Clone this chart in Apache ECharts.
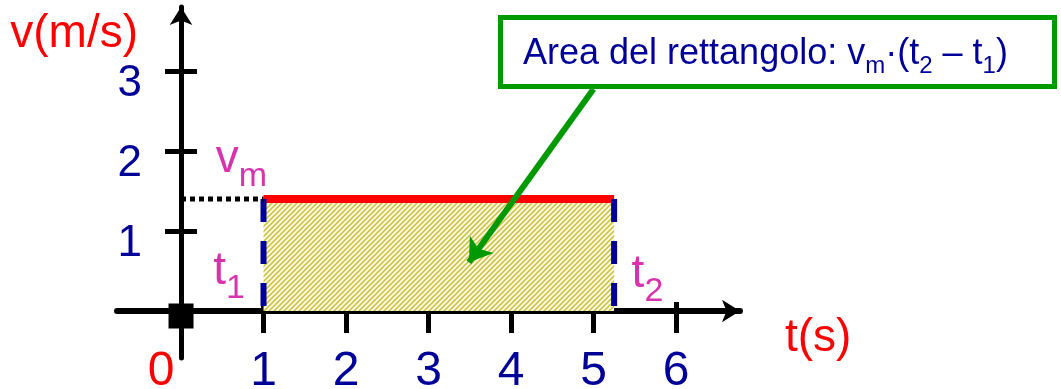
<!DOCTYPE html>
<html>
<head>
<meta charset="utf-8">
<script src="https://cdn.jsdelivr.net/npm/echarts@6/dist/echarts.min.js"></script>
<style>
  html, body { margin: 0; padding: 0; background: #ffffff; }
  #chart { width: 1061px; height: 389px; }
</style>
</head>
<body>
<div id="chart"></div>
<script>
// Tick values on the time axis (s) and on the velocity axis (m/s)
const timeTicks = [1, 2, 3, 4, 5, 6];
const timeLabels = [0, 1, 2, 3, 4, 5, 6];
const velocityTicks = [1, 2, 3];

// Constant mean velocity vm held from t1 to t2
const t1 = 1;
const t2 = 5.25;
const vm = 1.4;

const topEdge = [[t1, vm], [t2, vm]];
const leftEdge = [[t1, vm], [t1, 0]];
const rightEdge = [[t2, vm], [t2, 0]];
const vmGuide = [[0, vm], [t1, vm]];
const origin = [[0, 0]];

const FONT = '"Liberation Sans", Arial, sans-serif';
const NAVY = '#000099';
const MAGENTA = '#cc0099';
const RED = '#ff0000';
const GREEN = '#009900';

// Diagonal yellow hatching for the area under the velocity line
function hatchPattern() {
  const s = 5;
  const c = document.createElement('canvas');
  c.width = s; c.height = s;
  const g = c.getContext('2d');
  g.fillStyle = '#fbf8e0';
  g.fillRect(0, 0, s, s);
  g.strokeStyle = '#cdbf3e';
  g.lineWidth = 1.5;
  g.beginPath();
  g.moveTo(-1, s + 1); g.lineTo(s + 1, -1);
  g.moveTo(-s / 2 - 1, s / 2 + 1); g.lineTo(s / 2 + 1, -s / 2 - 1);
  g.moveTo(s / 2 - 1, s * 1.5 + 1); g.lineTo(s * 1.5 + 1, s / 2 - 1);
  g.stroke();
  return c;
}

// Axes run a little past the origin on both sides
const xMin = -0.776, xMax = 6.776;
const yMin = -0.5875, yMax = 3.8;

const subRich = {
  a: { fontSize: 46, fontFamily: FONT, color: MAGENTA, verticalAlign: 'bottom', padding: [0, 0, 12, 0] },
  b: { fontSize: 34, fontFamily: FONT, color: MAGENTA, verticalAlign: 'bottom' }
};

const tickLine = { color: '#000000', width: 5 };

const chart = echarts.init(document.getElementById('chart'), null, { renderer: 'canvas' });

chart.setOption({
  animation: false,
  backgroundColor: '#ffffff',
  grid: { left: 117, right: 321, top: 7, bottom: 31, containLabel: false, outerBoundsMode: 'none' },
  xAxis: [
    {
      type: 'value', min: xMin, max: xMax, position: 'bottom',
      axisLine: {
        show: true, onZero: true, onZeroAxisIndex: 0,
        symbol: ['none', 'arrow'], symbolSize: [17, 18],
        lineStyle: { color: '#000000', width: 6 }
      },
      axisTick: { show: true, inside: false, length: 22, customValues: timeTicks, lineStyle: tickLine },
      axisLabel: {
        show: true, customValues: timeLabels, margin: -10,
        fontSize: 48, fontFamily: FONT, color: NAVY,
        formatter: v => (v === 0 ? '{z|0}' : String(v)),
        rich: { z: { color: RED, fontSize: 48, fontFamily: FONT, padding: [0, 40, 0, 0] } }
      },
      splitLine: { show: false },
      name: 't(s)', nameLocation: 'end', nameGap: 45,
      nameTextStyle: { color: RED, fontSize: 46, fontFamily: FONT, verticalAlign: 'top', lineHeight: 54 }
    },
    {
      type: 'value', min: xMin, max: xMax, position: 'bottom',
      axisLine: { show: false, onZero: true, onZeroAxisIndex: 0 },
      axisTick: { show: true, inside: true, length: 9, customValues: timeTicks, lineStyle: tickLine },
      axisLabel: { show: false },
      splitLine: { show: false }
    }
  ],
  yAxis: [
    {
      type: 'value', min: yMin, max: yMax, position: 'left',
      axisLine: {
        show: true, onZero: true, onZeroAxisIndex: 0,
        symbol: ['none', 'arrow'], symbolSize: [17, 18],
        lineStyle: { color: '#000000', width: 5 }
      },
      axisTick: { show: true, inside: false, length: 16, customValues: velocityTicks, lineStyle: tickLine },
      axisLabel: {
        show: true, customValues: velocityTicks, margin: -25,
        fontSize: 44, fontFamily: FONT, color: NAVY,
        verticalAlign: 'top', lineHeight: 26
      },
      splitLine: { show: false },
      name: 'v(m/s)', nameLocation: 'end', nameGap: -27,
      nameTextStyle: {
        color: RED, fontSize: 46, fontFamily: FONT,
        align: 'right', verticalAlign: 'middle', padding: [0, 43, 0, 0]
      }
    },
    {
      type: 'value', min: yMin, max: yMax, position: 'left',
      axisLine: { show: false, onZero: true, onZeroAxisIndex: 0 },
      axisTick: { show: true, inside: true, length: 16, customValues: velocityTicks, lineStyle: tickLine },
      axisLabel: { show: false },
      splitLine: { show: false }
    }
  ],
  series: [
    {
      // hatched rectangle under vm, topped by the red velocity line
      type: 'line', data: topEdge, symbol: 'none', z: 2, silent: true,
      lineStyle: { color: RED, width: 8 },
      areaStyle: { color: { image: hatchPattern(), repeat: 'repeat' }, opacity: 1 }
    },
    {
      type: 'line', data: leftEdge, symbol: 'none', z: 3, silent: true,
      lineStyle: { color: NAVY, width: 6, type: [23, 19] }
    },
    {
      type: 'line', data: rightEdge, symbol: 'none', z: 3, silent: true,
      lineStyle: { color: NAVY, width: 6, type: [23, 19] }
    },
    {
      type: 'line', data: vmGuide, symbol: 'none', z: 3, silent: true,
      lineStyle: { color: '#000000', width: 5, type: [5, 4] }
    },
    {
      type: 'scatter', data: origin, symbol: 'rect', symbolSize: 25, symbolOffset: [0, 5],
      itemStyle: { color: '#000000', opacity: 1 }, z: 5, silent: true
    },
    {
      // vm, t1 and t2 markers
      type: 'scatter', symbolSize: 1, itemStyle: { color: 'transparent' }, z: 6, silent: true,
      label: { show: true, rich: subRich },
      data: [
        { value: [t1, vm], label: { position: [4, -4.5], align: 'right', verticalAlign: 'bottom', formatter: '{a|v}{b|m}' } },
        { value: [t1, 0], label: { position: [-18, -4.5], align: 'right', verticalAlign: 'bottom', formatter: '{a|t}{b|1}' } },
        { value: [t2, 0], label: { position: [18, -1.5], align: 'left', verticalAlign: 'bottom', formatter: '{a|t}{b|2}' } }
      ]
    },
    {
      // green pointer from the caption into the area
      type: 'line', data: [], z: 8, silent: true,
      markLine: {
        silent: true, animation: false,
        symbol: ['none', 'arrow'], symbolSize: 22,
        lineStyle: { color: GREEN, width: 6, type: 'solid' },
        label: { show: false },
        data: [[{ coord: [5.0, 2.775] }, { coord: [3.49, 0.61] }]]
      }
    }
  ],
  graphic: [
    {
      type: 'rect', z: 10, silent: true,
      shape: { x: 500.5, y: 17.5, width: 554, height: 69 },
      style: { fill: '#ffffff', stroke: GREEN, lineWidth: 5 }
    },
    {
      type: 'text', z: 11, silent: true,
      style: {
        x: 523, y: 57,
        text: '{a|Area del rettangolo: v}{s|m}{a|·(t}{s|2}{a| – t}{s|1}{a|)}',
        verticalAlign: 'middle', align: 'left',
        rich: {
          a: { fontSize: 36, fontFamily: FONT, fill: NAVY, color: NAVY, verticalAlign: 'bottom', padding: [0, 0, 6, 0] },
          s: { fontSize: 24, fontFamily: FONT, fill: NAVY, color: NAVY, verticalAlign: 'bottom' }
        }
      }
    }
  ]
});
</script>
</body>
</html>
